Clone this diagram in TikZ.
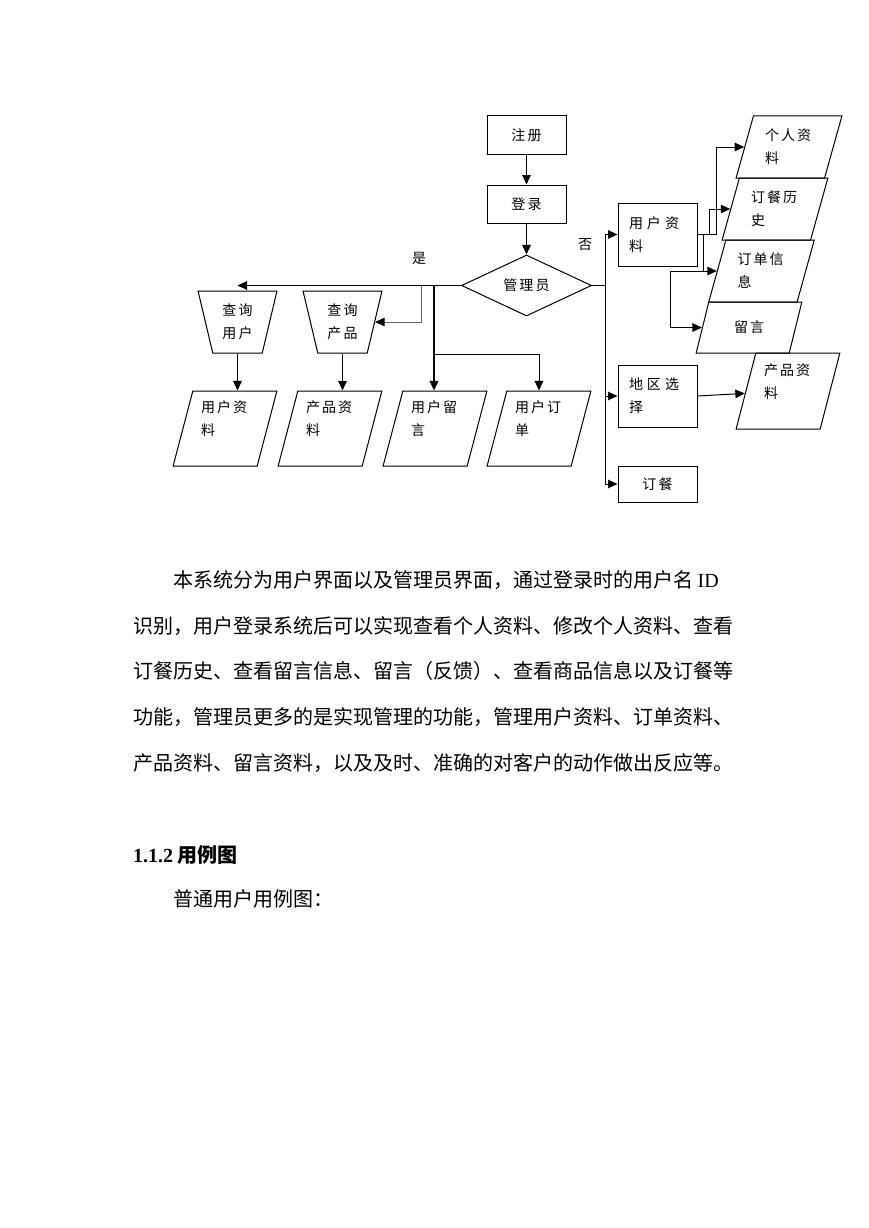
\documentclass[tikz,border=0pt]{standalone}
\usepackage{fontspec}
\setmainfont{Liberation Serif}
\newfontfamily\cjk{Noto Sans CJK SC}
\newfontfamily\dgcjk[LetterSpace=15]{Noto Sans CJK SC}
\newcommand{\dgf}{\dgcjk\fontsize{14}{23}\selectfont}
\usepackage{tikz}
\usetikzlibrary{arrows.meta, positioning, shapes.geometric}

\begin{document}
\begin{tikzpicture}[
x=1pt, y=-1pt,
node distance=30pt,
box/.style={
rectangle,
draw,
line width=1pt,
minimum width=79pt,
minimum height=38pt,
inner sep=0pt,
font=\dgf
},
decision/.style={
diamond,
draw,
line width=1pt,
minimum width=130pt,
minimum height=61pt,
inner sep=0pt,
font=\dgf
},
query/.style={
trapezium,
trapezium left angle=104,
trapezium right angle=104,
trapezium stretches=true,
draw,
line width=1pt,
minimum width=79pt,
minimum height=62pt,
inner sep=0pt,
align=center,
font=\dgf
},
para/.style={
trapezium,
trapezium left angle=#1,
trapezium right angle=180-#1,
trapezium stretches=true,
draw,
line width=1pt,
minimum width=104pt,
minimum height=75pt,
inner sep=0pt,
text width=48pt,
align=left,
font=\dgf
},
arr/.style={
-{Triangle[length=9.5pt,width=8.5pt,color=black]},
line width=1pt
},
lbl/.style={font=\cjk\fontsize{14}{16}\selectfont},
body/.style={anchor=base west, inner sep=0pt, font=\cjk\fontsize{20}{24}\selectfont}
]

\path[use as bounding box, fill=white] (0,0) rectangle (869,1228);

% main column
\node[box] (zc) at (526.5,135) {注册};
\node[box, below=of zc] (dl) {登录};
\node[decision, below=31pt of dl] (gly) {管理员};

% admin side
\node[query] (cxyh) at (237.5,322) {查询\\用户};
\node[query] (cxcp) at (342.5,322) {查询\\产品};
\node[para=75] (yhzlb) at (225,428.5) {用户资\\料\\[-3pt]\mbox{}};
\node[para=75] (cpzlb) at (330,428.5) {产品资\\料\\[-3pt]\mbox{}};
\node[para=75] (yhly) at (435,428.5) {用户留\\言\\[-3pt]\mbox{}};
\node[para=75] (yhdd) at (539,428.5) {用户订\\单\\[-3pt]\mbox{}};

% user side
\node[box, minimum height=63pt, text width=57pt, align=left] (yhzl) at (657.5,234.5)
{用\hspace{4pt}户\hspace{4pt}资\\料};
\node[box, minimum height=62pt, text width=57pt, align=left] (dqxz) at (657.5,396)
{地\hspace{4pt}区\hspace{4pt}选\\择};
\node[box, minimum height=36pt] (dc) at (657.5,484) {订餐};
\node[para=72, minimum width=106pt, minimum height=62pt] (grzl) at (789,147) {个人资\\料};
\node[para=72, minimum width=106pt, minimum height=62pt] (dcls) at (775,209) {订餐历\\史};
\node[para=72, minimum width=106pt, minimum height=62pt] (ddxx) at (761.5,271) {订单信\\息};
\node[para=70, minimum width=106pt, minimum height=51pt, text width=30pt] (ly) at (749,327.5) {留言};
\node[para=75, minimum height=76pt] (cpzlr) at (788,391) {产品资\\料\\[-3pt]\mbox{}};

\node[lbl] (shi) at (419,258) {是};
\node[lbl] (fou) at (585,245) {否};

\coordinate (jg) at ([xshift=-40pt]gly.west);
\coordinate (jt) at ([xshift=-27pt]gly.west);
\coordinate (jb) at ([yshift=-69pt]jt);
\coordinate (jr) at ([xshift=13pt]gly.east);

\draw[arr] (zc) -- (dl);
\draw[arr] (dl) -- (gly);
\draw[arr] (gly.west) -- (gly.west -| cxyh.north);
\draw[arr, draw=black!60] (jg) |- (cxcp.east);
\draw[arr, line width=1.8pt] (jt) -- (jt |- yhly.north);
\draw[arr] (jb) -| (yhdd.north);
\draw[arr] (cxyh.south) -- (cxyh.south |- yhzlb.north);
\draw[arr] (cxcp.south) -- (cxcp.south |- cpzlb.north);

\draw[arr] (gly.east) -- (jr) |- (yhzl);
\draw[arr] (jr) |- (dqxz);
\draw[arr] (jr) |- (dc);
\draw[arr] (yhzl.east) -- ++(19,0) |- (grzl);
\draw[arr] (yhzl.east) -- ++(12,0) |- (dcls);
\draw[arr] (yhzl.east) -- ++(6,0) coordinate (jy) |- (ddxx);
\draw[arr] (jy |- ddxx) -- ++(-33,0) |- (ly);
\draw[arr] (dqxz.east) -- (cpzlr);

% text below the chart
\node[body] (p1) at (173,587.5) {本系统分为用户界面以及管理员界面，通过登录时的用户名 {\rmfamily ID}};
\node[body] (p2) at (133,633.5) {识别，用户登录系统后可以实现查看个人资料、修改个人资料、查看};
\node[body] (p3) at (133,678.5) {订餐历史、查看留言信息、留言（反馈）、查看商品信息以及订餐等};
\node[body] (p4) at (133,724.5) {功能，管理员更多的是实现管理的功能，管理用户资料、订单资料、};
\node[body] (p5) at (133,770.5) {产品资料、留言资料，以及及时、准确的对客户的动作做出反应等。};
\node[body, font=\cjk\bfseries\fontsize{20}{24}\selectfont] (h1) at (133,862) {{\rmfamily 1.1.2} 用例图};
\node[body] (p6) at (173,906) {普通用户用例图：};

\end{tikzpicture}
\end{document}
